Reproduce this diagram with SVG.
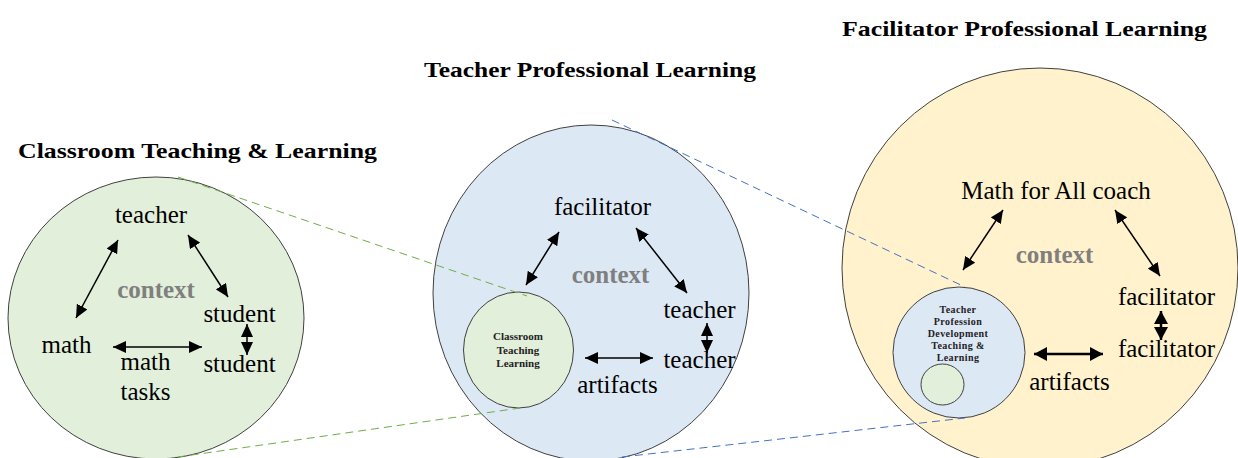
<svg xmlns="http://www.w3.org/2000/svg" width="1238" height="458" viewBox="0 0 1238 458">
<style>
.title{font-family:'Liberation Serif','DejaVu Serif',serif;font-weight:bold;font-size:22px;fill:#000}
.lbl{font-family:'Liberation Serif','DejaVu Serif',serif;font-size:25px;fill:#000;text-anchor:middle}
.ctx{font-family:'Liberation Serif','DejaVu Serif',serif;font-weight:bold;font-size:25px;fill:#7f7f7f;text-anchor:middle}
.small{font-family:'Liberation Serif','DejaVu Serif',serif;font-weight:bold;font-size:11px;fill:#222;text-anchor:middle}
.tiny{font-family:'Liberation Serif','DejaVu Serif',serif;font-weight:bold;font-size:10px;fill:#222;text-anchor:middle;letter-spacing:0.4px}
.circ{stroke:#404040;stroke-width:1}
.g{fill:#e2efda}
.b{fill:#dde8f5}
.y{fill:#fff2cc}
.arr{stroke:#000;stroke-width:1.5;fill:none;marker-start:url(#ah);marker-end:url(#ah)}
.arrT{stroke:#000;stroke-width:2.5;fill:none;marker-start:url(#ah2);marker-end:url(#ah2)}
.dg{stroke:#70ad47;stroke-width:1;stroke-dasharray:8 5;fill:none}
.db{stroke:#4472c4;stroke-width:1;stroke-dasharray:8 5;fill:none}
</style>
<defs>
<marker id="ah" markerUnits="userSpaceOnUse" markerWidth="14" markerHeight="12" refX="13" refY="6" orient="auto-start-reverse">
<path d="M0,0 L13,6 L0,12 Z" fill="#000"/>
</marker>
<marker id="ah2" markerUnits="userSpaceOnUse" markerWidth="14" markerHeight="14" refX="13" refY="7" orient="auto-start-reverse">
<path d="M0,0 L13,7 L0,14 Z" fill="#000"/>
</marker>
</defs>
<rect width="1238" height="458" fill="#fff"/>

<g id="titles">
<text class="title" font-family="Liberation Serif, serif" x="18" y="158" textLength="359" lengthAdjust="spacingAndGlyphs">Classroom Teaching &amp; Learning</text>
<text class="title" font-family="Liberation Serif, serif" x="424" y="77" textLength="332" lengthAdjust="spacingAndGlyphs">Teacher Professional Learning</text>
<text class="title" font-family="Liberation Serif, serif" x="842" y="36" textLength="365" lengthAdjust="spacingAndGlyphs">Facilitator Professional Learning</text>
</g>

<g id="classroom">
<ellipse class="circ g" cx="156" cy="318" rx="148" ry="141"/>
<text class="lbl" x="151" y="223">teacher</text>
<text class="ctx" x="156" y="298">context</text>
<text class="lbl" x="239.5" y="322">student</text>
<text class="lbl" x="239.5" y="372">student</text>
<text class="lbl" x="66.5" y="353">math</text>
<text class="lbl" x="145.5" y="370">math</text>
<text class="lbl" x="145.5" y="400">tasks</text>
</g>

<g id="teacher-pl">
<ellipse class="circ b" cx="591" cy="293" rx="158" ry="168"/>
<ellipse class="circ g" cx="518.5" cy="350" rx="55" ry="58"/>
<text class="small" x="518" y="340">Classroom</text>
<text class="small" x="518" y="353.5">Teaching</text>
<text class="small" x="518" y="367">Learning</text>
<text class="lbl" x="602.5" y="215">facilitator</text>
<text class="ctx" x="610.5" y="283">context</text>
<text class="lbl" x="699.5" y="318">teacher</text>
<text class="lbl" x="699.5" y="368">teacher</text>
<text class="lbl" x="617.5" y="393">artifacts</text>
</g>

<g id="facilitator-pl">
<ellipse class="circ y" cx="1040" cy="268" rx="198" ry="200"/>
<ellipse class="circ b" cx="959" cy="352.5" rx="66" ry="65.5"/>
<ellipse class="circ g" cx="942.5" cy="384.5" rx="21.5" ry="20.5"/>
<text class="tiny" x="958" y="312.5">Teacher</text>
<text class="tiny" x="958" y="324.5">Profession</text>
<text class="tiny" x="958" y="336.5">Development</text>
<text class="tiny" x="958" y="348.5">Teaching &amp;</text>
<text class="tiny" x="958" y="360.5">Learning</text>
<text class="lbl" x="1056" y="199">Math for All coach</text>
<text class="ctx" x="1054.5" y="263">context</text>
<text class="lbl" x="1166.5" y="305">facilitator</text>
<text class="lbl" x="1166.5" y="357">facilitator</text>
<text class="lbl" x="1069.5" y="390">artifacts</text>
</g>

<g id="connectors">
<line class="arr" x1="118" y1="240" x2="76" y2="318"/>
<line class="arr" x1="188" y1="235" x2="228" y2="297"/>
<line class="arr" x1="113" y1="347" x2="202" y2="347"/>
<line class="arr" x1="247" y1="324" x2="247" y2="355"/>

<line class="arr" x1="559" y1="232" x2="526" y2="285"/>
<line class="arr" x1="636" y1="228" x2="687" y2="293"/>
<line class="arr" x1="585" y1="358" x2="653" y2="358"/>
<line class="arr" x1="707" y1="323" x2="707" y2="353"/>

<line class="arr" x1="1003" y1="210" x2="963" y2="270"/>
<line class="arr" x1="1115" y1="210" x2="1160" y2="276"/>
<line class="arrT" x1="1034" y1="354" x2="1103" y2="354"/>
<line class="arrT" x1="1161" y1="311" x2="1161" y2="340"/>

<line class="dg" x1="178" y1="177" x2="527" y2="296"/>
<line class="dg" x1="178" y1="457" x2="520" y2="408"/>
<line class="db" x1="612" y1="120" x2="965" y2="287"/>
<line class="db" x1="622" y1="457" x2="965" y2="418"/>
</g>
</svg>
